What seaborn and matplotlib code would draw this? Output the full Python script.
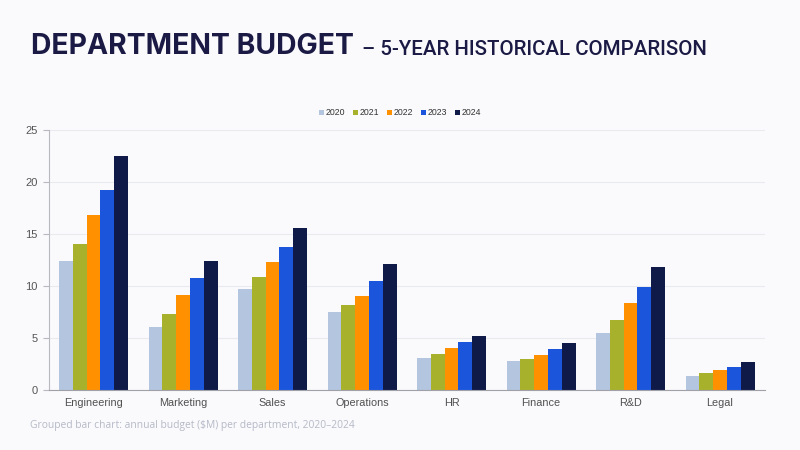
import numpy as np
import pandas as pd
import matplotlib.pyplot as plt
import seaborn as sns

departments = ['Engineering', 'Marketing', 'Sales', 'Operations', 'HR', 'Finance', 'R&D', 'Legal']
years = ['2020', '2021', '2022', '2023', '2024']
budget_2020 = [12.4, 6.1, 9.7, 7.5, 3.1, 2.8, 5.5, 1.3]
budget_2021 = [14.0, 7.3, 10.9, 8.2, 3.5, 3.0, 6.7, 1.6]
budget_2022 = [16.8, 9.1, 12.3, 9.0, 4.0, 3.4, 8.4, 1.9]
budget_2023 = [19.2, 10.8, 13.7, 10.5, 4.6, 3.9, 9.9, 2.2]
budget_2024 = [22.5, 12.4, 15.6, 12.1, 5.2, 4.5, 11.8, 2.7]
year_colors = ['#b3c5df', '#a8b12c', '#ff9000', '#1a55dc', '#0f1a48']

series = [budget_2020, budget_2021, budget_2022, budget_2023, budget_2024]
rows = []
for yr, vals in zip(years, series):
    for dep, v in zip(departments, vals):
        rows.append({'Department': dep, 'Year': yr, 'Budget': v})
df = pd.DataFrame(rows)

bg = '#fafafd'
sns.set_theme(style='white')
plt.rcParams['font.family'] = ['Liberation Sans', 'DejaVu Sans']

fig = plt.figure(figsize=(8, 4.5), dpi=100, facecolor=bg)
ax = fig.add_axes([0.061, 0.1333, 0.895, 0.578], facecolor=bg)

sns.barplot(data=df, x='Department', y='Budget', hue='Year', hue_order=years,
            palette=year_colors, width=0.77, gap=0, saturation=1, ax=ax,
            linewidth=0, errorbar=None)

ax.set_xlim(-0.5, 7.5)
ax.set_ylim(0, 25)
ax.set_yticks([0, 5, 10, 15, 20, 25])
ax.yaxis.grid(True, color='#e9e9f0', linewidth=0.8)
ax.set_axisbelow(True)
ax.set_xlabel('')
ax.set_ylabel('')

for s in ['top', 'right']:
    ax.spines[s].set_visible(False)
ax.spines['left'].set_color('#b8b8c0')
ax.spines['bottom'].set_color('#a0a0a8')
ax.spines['left'].set_linewidth(0.8)
ax.spines['bottom'].set_linewidth(0.8)

ax.set_xticks(np.arange(-0.5, 8, 1), minor=True)
ax.tick_params(axis='x', which='major', length=0, pad=6, labelsize=7.8, labelcolor='#505050')
ax.tick_params(axis='x', which='minor', length=5, color='#a0a0a8', width=0.8, direction='out')
ax.tick_params(axis='y', which='major', length=4, color='#b8b8c0', width=0.8,
               direction='out', left=True, labelsize=8, labelcolor='#555555', pad=4)

handles, labels = ax.get_legend_handles_labels()
ax.get_legend().remove()
fig.legend(handles, labels, loc='center', bbox_to_anchor=(0.5, 0.749), ncol=5,
           frameon=False, fontsize=6.3, handlelength=0.55, handleheight=0.55,
           handletextpad=0.2, columnspacing=0.9, labelcolor='#333333')

fig.text(0.039, 0.88, 'DEPARTMENT BUDGET', fontsize=20.4, fontweight='bold',
         color='#1a1a45', family=['Inter', 'DejaVu Sans'], va='baseline')
fig.text(0.452, 0.877, '\u2013 5-YEAR HISTORICAL COMPARISON', fontsize=14.8,
         fontweight='medium', color='#1a1a45', family=['Roboto', 'DejaVu Sans'],
         va='baseline')
fig.text(0.0375, 0.055, 'Grouped bar chart: annual budget ($M) per department, 2020\u20132024',
         fontsize=7.4, color='#b5b9c6', family=['Open Sans', 'DejaVu Sans'], va='center')

fig.savefig('out.png', dpi=100, facecolor=bg)
